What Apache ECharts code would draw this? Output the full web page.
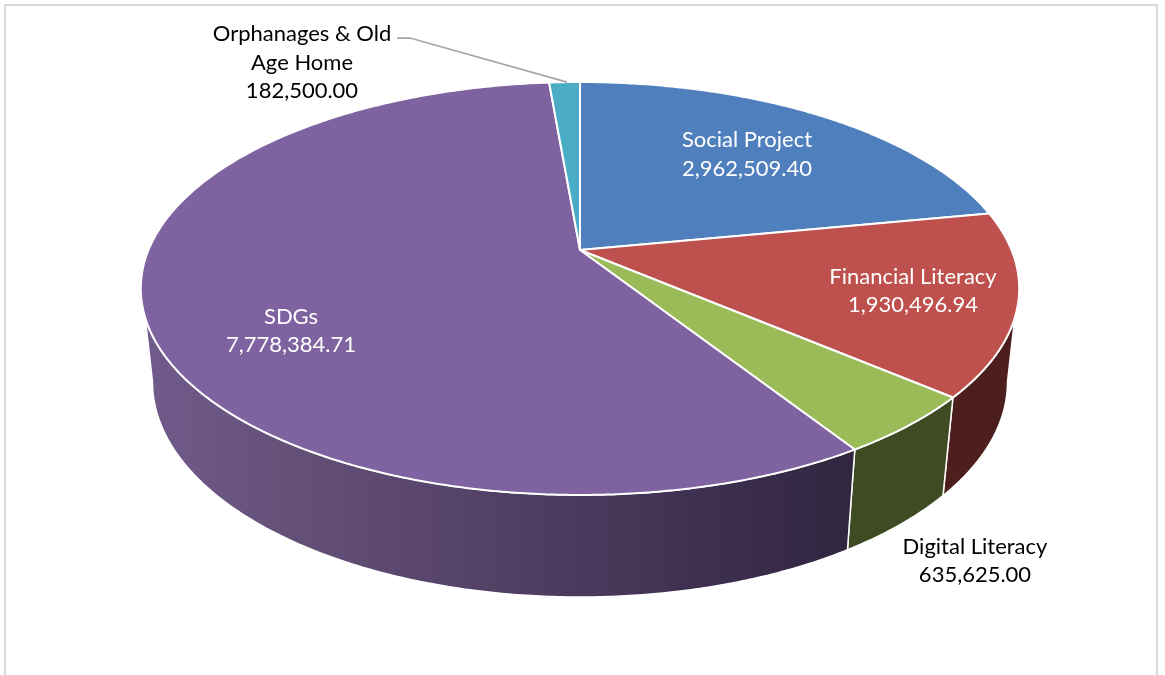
<!DOCTYPE html>
<html>
<head>
<meta charset="utf-8">
<title>Pie</title>
<style>
  html, body { margin: 0; padding: 0; background: #fff; }
  #chart { width: 1165px; height: 675px; }
</style>
<script src="https://cdn.jsdelivr.net/npm/echarts@6/dist/echarts.min.js"></script>
</head>
<body>
<div id="chart"></div>
<script>
// chart data
const categories = ['Social Project', 'Financial Literacy', 'Digital Literacy', 'SDGs', 'Orphanages & Old\nAge Home']
const values = [2962509.40, 1930496.94, 635625.00, 7778384.71, 182500.00]

// colours per slice
const faceColors = ['#4f7fbc', '#be504d', '#9bbb59', '#7f62a0', '#4bacc6']
const labelColors = ['#fff', '#fff', '#000', '#fff', '#000']
const labelAnchors = [[747, 154.5], [913, 291], [975, 561], [291, 331], [302, 62.5]]

// perspective of the tilted disc (top face and bottom face)
const persp = 0.1864
const topDisc = { x: 580, y: 250, a: 431.5, b: 199.3 }
const bottomDisc = { x: 580, y: 342, a: 420, b: 207.5 }
// angles where the side wall leaves the silhouette, in degrees from 12 o'clock
const topRim = [108.7, 251.3]
const bottomRim = [100.7, 259.3]

const total = values.reduce((sum, v) => sum + v, 0)
const angles = [0]
values.forEach((v, i) => angles.push(angles[i] + v / total * 360))

function project(disc, deg) {
    const t = deg * Math.PI / 180
    const u = Math.sin(t)
    const v = -Math.cos(t)
    const d = 1 - persp * v
    return [disc.x + disc.a * u / d, disc.y + disc.b * v / d]
}

function arc(disc, from, to) {
    const pts = []
    const n = Math.max(1, Math.ceil((to - from) * 2))
    for (let i = 0; i <= n; i++) pts.push(project(disc, from + (to - from) * i / n))
    return pts
}

function wallFill(i) {
    if (i === 3) {
        return new echarts.graphic.LinearGradient(0, 0, 1, 0, [
            { offset: 0, color: '#715b8c' },
            { offset: 0.2, color: '#655079' },
            { offset: 0.5, color: '#534065' },
            { offset: 0.8, color: '#3d2f4f' },
            { offset: 1, color: '#30263f' }
        ])
    }
    return i === 1 ? '#4c1f1e' : '#3f4b22'
}

function renderWall(params) {
    const i = params.dataIndex
    const from = angles[i]
    const to = angles[i + 1]
    const t1 = Math.max(from, topRim[0])
    const t2 = Math.min(to, topRim[1])
    if (t2 <= t1) return { type: 'group', children: [] }
    const b1 = from < topRim[0] ? bottomRim[0] : from
    const b2 = to > topRim[1] ? bottomRim[1] : to
    const points = arc(topDisc, t1, t2).concat(arc(bottomDisc, b1, b2).reverse())
    return {
        type: 'polygon',
        shape: { points },
        style: { fill: wallFill(i), stroke: '#fff', lineWidth: 1.5, lineJoin: 'round' }
    }
}

function renderFace(params) {
    const i = params.dataIndex
    const points = [[topDisc.x, topDisc.y]].concat(arc(topDisc, angles[i], angles[i + 1]))
    return {
        type: 'polygon',
        shape: { points },
        style: { fill: faceColors[i], stroke: '#fff', lineWidth: 2, lineJoin: 'round' }
    }
}

function renderLabel(params) {
    const i = params.dataIndex
    const money = values[i].toLocaleString('en-US', { minimumFractionDigits: 2, maximumFractionDigits: 2 })
    const [x, y] = labelAnchors[i]
    const children = [{
        type: 'text',
        style: {
            x, y,
            text: categories[i] + '\n' + money,
            fill: labelColors[i],
            font: '22px Lato, "Open Sans", sans-serif',
            lineHeight: 28.5,
            align: 'center',
            verticalAlign: 'middle'
        }
    }]
    if (i === 4) {
        // leader line of the small slice
        children.push({
            type: 'polyline',
            shape: { points: [[397, 38], [410, 38], project(topDisc, angles[4] + (angles[5] - angles[4]) * 0.58)] },
            style: { fill: null, stroke: '#a6a6a6', lineWidth: 1.75 }
        })
    }
    return { type: 'group', children }
}

const chart = echarts.init(document.getElementById('chart'))
const seriesData = values.map((v, i) => ({ name: categories[i], value: v }))

chart.setOption({
    animation: false,
    backgroundColor: '#fff',
    tooltip: { show: false },
    graphic: [{
        type: 'rect',
        silent: true,
        z: -1,
        shape: { x: 5, y: 5, width: 1152, height: 700 },
        style: { fill: '#fff', stroke: '#d9d9d9', lineWidth: 2 }
    }],
    series: [
        { type: 'custom', coordinateSystem: 'none', renderItem: renderWall, data: seriesData, silent: true },
        { type: 'custom', coordinateSystem: 'none', renderItem: renderFace, data: seriesData, silent: true },
        { type: 'custom', coordinateSystem: 'none', renderItem: renderLabel, data: seriesData, silent: true }
    ]
})

window.addEventListener('resize', () => {
    chart.resize()
})
</script>
</body>
</html>
